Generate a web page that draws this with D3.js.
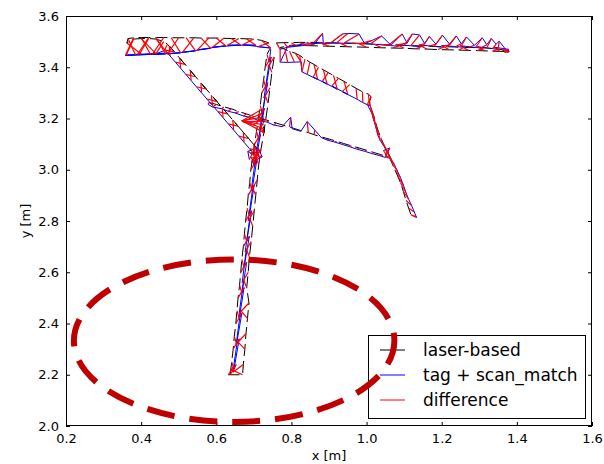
<!DOCTYPE html>
<html><head><meta charset="utf-8">
<script src="https://cdn.jsdelivr.net/npm/d3@7"></script>
<style>body{margin:0;background:#fff}svg{display:block}text{font-family:"DejaVu Sans",sans-serif;fill:#000}</style>
</head><body>
<svg id="c" width="604" height="464"></svg>
<script>
const xTicks = [0.2, 0.4, 0.6, 0.8, 1.0, 1.2, 1.4, 1.6];
const yTicks = [2.0, 2.2, 2.4, 2.6, 2.8, 3.0, 3.2, 3.4, 3.6];
const seriesNames = ["laser-based", "tag + scan_match", "difference"];

// laser-based poses [x, y] (null = break in the track)
const laser = [
  // vertical corridor, going up
  [0.637,2.20],[0.641,2.25],[0.645,2.30],[0.648,2.35],[0.652,2.40],[0.655,2.45],[0.658,2.50],[0.662,2.55],[0.665,2.60],[0.668,2.65],[0.672,2.70],[0.675,2.75],[0.678,2.80],[0.682,2.85],[0.685,2.90],[0.689,2.95],[0.692,3.00],[0.697,3.05],[0.702,3.10],[0.707,3.15],[0.712,3.20],[0.717,3.25],[0.721,3.30],[0.726,3.35],[0.730,3.40],[0.735,3.45],[0.742,3.47],
  null,
  // top-left corridor, going left
  [0.740,3.495],[0.720,3.505],[0.700,3.510],[0.680,3.511],[0.660,3.512],[0.640,3.512],[0.620,3.513],[0.600,3.514],[0.580,3.514],[0.560,3.514],[0.540,3.515],[0.520,3.515],[0.500,3.515],[0.480,3.515],[0.460,3.516],[0.440,3.516],[0.420,3.516],[0.400,3.516],[0.380,3.515],[0.365,3.512],
  // and back right
  [0.362,3.495],[0.380,3.510],[0.400,3.512],[0.420,3.512],[0.440,3.510],[0.460,3.500],[0.470,3.490],
  // left diagonal, going down
  [0.489,3.459],[0.475,3.483],[0.517,3.411],[0.503,3.435],[0.545,3.363],[0.531,3.387],[0.573,3.315],[0.559,3.339],[0.602,3.266],[0.587,3.291],[0.630,3.218],[0.616,3.242],[0.658,3.170],[0.644,3.194],[0.686,3.122],[0.672,3.146],[0.714,3.074],[0.700,3.098],
  null,
  // junction clutter
  [0.720,3.235],[0.722,3.220],[0.724,3.205],[0.725,3.190],[0.726,3.175],[0.727,3.160],[0.728,3.145],[0.722,3.200],
  null,
  [0.705,3.090],[0.716,3.040],[0.700,3.020],[0.690,3.065],[0.712,3.070],[0.698,3.045],
  null,
  // middle corridor, going right
  [0.580,3.262],[0.600,3.255],[0.620,3.245],[0.640,3.238],[0.660,3.227],[0.680,3.218],[0.700,3.208],[0.720,3.200],[0.740,3.191],[0.760,3.182],[0.780,3.173],[0.795,3.167],[0.805,3.162],[0.825,3.153],[0.845,3.145],[0.860,3.137],[0.880,3.128],[0.900,3.120],[0.920,3.111],[0.940,3.102],[0.960,3.093],[0.980,3.085],[1.000,3.076],[1.020,3.067],[1.040,3.058],[1.056,3.050],[1.050,3.060],[1.058,3.045],
  null,
  // top-right corridor, going right
  [0.760,3.495],[0.780,3.496],[0.800,3.496],[0.820,3.497],[0.840,3.497],[0.860,3.497],[0.875,3.497],[0.890,3.496],[0.905,3.496],[0.920,3.495],[0.940,3.495],[0.960,3.494],[0.985,3.493],[1.010,3.491],[1.035,3.489],[1.060,3.488],[1.080,3.487],[1.100,3.485],[1.118,3.484],[1.135,3.484],[1.150,3.483],[1.165,3.482],[1.180,3.481],[1.200,3.480],[1.215,3.480],[1.235,3.479],[1.250,3.478],[1.270,3.477],[1.290,3.477],[1.305,3.476],[1.320,3.475],[1.335,3.473],[1.350,3.471],[1.362,3.468],[1.368,3.458],[1.360,3.474],[1.366,3.462],
  // and back left
  [1.355,3.462],[1.335,3.463],[1.315,3.464],[1.295,3.465],[1.270,3.466],[1.245,3.467],[1.220,3.468],[1.190,3.469],[1.160,3.471],[1.130,3.472],[1.100,3.474],[1.070,3.475],[1.040,3.476],[1.000,3.478],[0.950,3.480],[0.900,3.482],[0.850,3.484],[0.800,3.486],
  // right diagonal, going down
  [0.770,3.477],[0.783,3.470],[0.795,3.462],[0.810,3.455],[0.822,3.446],[0.836,3.432],[0.849,3.420],[0.860,3.411],[0.872,3.400],[0.885,3.390],[0.898,3.379],[0.912,3.368],[0.925,3.357],[0.940,3.345],[0.955,3.332],[0.972,3.318],[0.989,3.304],[1.005,3.295],[1.012,3.285],[1.008,3.265],[1.012,3.240],[1.018,3.215],[1.024,3.185],[1.030,3.155],[1.038,3.125],[1.045,3.100],[1.052,3.075],[1.060,3.050],[1.068,3.025],[1.075,3.000],[1.083,2.975],[1.090,2.950],[1.098,2.915],[1.105,2.880],[1.112,2.850],[1.118,2.825],[1.125,2.818],
  null,
  // vertical corridor, going down
  [0.754,3.44],[0.748,3.38],[0.743,3.32],[0.738,3.26],[0.732,3.20],[0.726,3.14],[0.719,3.08],[0.713,3.02],[0.709,2.96],[0.705,2.90],[0.701,2.84],[0.697,2.78],[0.693,2.72],[0.688,2.66],[0.685,2.60],[0.681,2.54],[0.687,2.48],[0.683,2.42],[0.679,2.36],[0.676,2.30],[0.672,2.24],[0.670,2.20],[0.632,2.20]
];

// tag + scan_match poses, one per laser pose
const tag = [
  [0.653,2.24],[0.647,2.22],[0.661,2.34],[0.654,2.32],[0.668,2.44],[0.661,2.42],[0.674,2.54],[0.668,2.52],[0.681,2.64],[0.674,2.62],[0.688,2.74],[0.681,2.72],[0.694,2.84],[0.688,2.82],[0.701,2.94],[0.695,2.92],[0.708,3.04],[0.703,3.02],[0.718,3.14],[0.713,3.12],[0.728,3.24],[0.723,3.22],[0.737,3.34],[0.732,3.32],[0.746,3.44],[0.741,3.42],[0.745,3.47],
  null,
  [0.710,3.480],[0.745,3.475],[0.670,3.488],[0.705,3.486],[0.630,3.486],[0.665,3.487],[0.590,3.478],[0.625,3.484],[0.550,3.468],[0.585,3.474],[0.510,3.458],[0.545,3.464],[0.470,3.452],[0.505,3.456],[0.430,3.450],[0.465,3.452],[0.390,3.449],[0.425,3.450],[0.358,3.446],[0.385,3.448],
  [0.400,3.452],[0.360,3.447],[0.440,3.452],[0.395,3.450],[0.470,3.455],[0.440,3.453],[0.462,3.465],
  [0.463,3.468],[0.477,3.444],[0.491,3.420],[0.505,3.396],[0.519,3.372],[0.533,3.348],[0.547,3.324],[0.561,3.300],[0.575,3.276],[0.590,3.251],[0.604,3.227],[0.618,3.203],[0.632,3.179],[0.646,3.155],[0.660,3.131],[0.674,3.107],[0.688,3.083],[0.702,3.059],
  null,
  [0.668,3.190],[0.670,3.188],[0.669,3.192],[0.672,3.187],[0.668,3.191],[0.671,3.189],[0.674,3.186],[0.700,3.176],
  null,
  [0.688,3.040],[0.684,3.072],[0.712,3.085],[0.722,3.050],[0.693,3.030],[0.718,3.075],
  null,
  [0.578,3.255],[0.590,3.245],[0.615,3.238],[0.632,3.228],[0.650,3.222],[0.672,3.210],[0.695,3.203],[0.712,3.192],[0.735,3.186],[0.752,3.175],[0.775,3.168],[0.798,3.205],[0.802,3.160],[0.825,3.150],[0.842,3.188],[0.862,3.155],[0.880,3.125],[0.895,3.116],[0.915,3.108],[0.935,3.099],[0.955,3.090],[0.975,3.080],[0.995,3.072],[1.015,3.063],[1.035,3.055],[1.050,3.048],[1.062,3.085],[1.045,3.075],
  null,
  [0.770,3.470],[0.790,3.478],[0.815,3.482],[0.840,3.486],[0.860,3.488],[0.883,3.532],[0.885,3.490],[0.905,3.495],[0.936,3.530],[0.950,3.532],[0.980,3.530],[0.995,3.492],[1.015,3.505],[1.040,3.522],[1.065,3.486],[1.095,3.530],[1.108,3.494],[1.122,3.530],[1.141,3.526],[1.155,3.492],[1.167,3.520],[1.185,3.490],[1.202,3.525],[1.222,3.488],[1.239,3.522],[1.252,3.492],[1.266,3.518],[1.287,3.486],[1.308,3.515],[1.320,3.488],[1.332,3.512],[1.345,3.490],[1.353,3.502],[1.372,3.466],[1.380,3.462],[1.376,3.458],[1.378,3.470],
  [1.340,3.478],[1.350,3.470],[1.295,3.480],[1.310,3.474],[1.250,3.484],[1.260,3.478],[1.200,3.485],[1.205,3.478],[1.140,3.487],[1.145,3.480],[1.080,3.489],[1.085,3.482],[1.020,3.490],[0.980,3.492],[0.930,3.494],[0.880,3.494],[0.830,3.490],[0.790,3.480],
  [0.770,3.420],[0.790,3.419],[0.808,3.420],[0.826,3.421],[0.827,3.400],[0.828,3.382],[0.842,3.372],[0.870,3.352],[0.858,3.362],[0.895,3.334],[0.882,3.345],[0.922,3.314],[0.908,3.327],[0.950,3.294],[0.935,3.305],[0.975,3.275],[0.990,3.262],[1.008,3.250],[1.002,3.255],[1.014,3.220],[1.020,3.190],[1.026,3.160],[1.030,3.135],[1.036,3.115],[1.045,3.095],[1.058,3.065],[1.066,3.040],[1.074,3.020],[1.082,2.995],[1.090,2.970],[1.098,2.940],[1.105,2.910],[1.112,2.885],[1.120,2.860],[1.127,2.835],[1.133,2.814],[1.130,2.820],
  null,
  [0.738,3.40],[0.740,3.41],[0.727,3.28],[0.730,3.29],[0.716,3.16],[0.718,3.17],[0.703,3.04],[0.705,3.05],[0.693,2.92],[0.697,2.93],[0.685,2.80],[0.689,2.81],[0.677,2.68],[0.680,2.69],[0.669,2.56],[0.673,2.57],[0.661,2.44],[0.665,2.45],[0.653,2.32],[0.656,2.33],[0.644,2.21],[0.640,2.22],[0.645,2.23]
];

const ellipseCenter = [0.6475, 2.333];
const ellipseRadii = [0.4265, 0.317];

const L = 66, R = 592, T = 16, B = 426;
const svg = d3.select("#c");
const x = d3.scaleLinear().domain([0.2, 1.6]).range([L, R]);
const y = d3.scaleLinear().domain([2.0, 3.6]).range([B, T]);

svg.append("defs").append("clipPath").attr("id", "clip")
  .append("rect").attr("x", L).attr("y", T).attr("width", R - L).attr("height", B - T);

const plot = svg.append("g").attr("clip-path", "url(#clip)");
const line = d3.line().defined(d => d !== null).x(d => x(d[0])).y(d => y(d[1]));

plot.append("path").attr("d", line(laser)).attr("fill", "none")
  .attr("stroke", "#000").attr("stroke-width", 1).attr("stroke-dasharray", "12,5");
plot.append("path").attr("d", line(tag)).attr("fill", "none")
  .attr("stroke", "#0000ff").attr("stroke-width", 1);

const diffs = laser.map((p, i) => (p && tag[i]) ? [p, tag[i]] : null).filter(d => d);
plot.append("g").selectAll("line").data(diffs).join("line")
  .attr("x1", d => x(d[0][0])).attr("y1", d => y(d[0][1]))
  .attr("x2", d => x(d[1][0])).attr("y2", d => y(d[1][1]))
  .attr("stroke", "#ff0000").attr("stroke-width", 1.2);

// axes (classic style: ticks inside on all four sides)
const fmt = d3.format(".1f");
const ax = svg.append("g").attr("transform", `translate(0,${B})`)
  .call(d3.axisBottom(x).tickValues(xTicks).tickSizeInner(-4).tickSizeOuter(0).tickPadding(8).tickFormat(fmt));
const axT = svg.append("g").attr("transform", `translate(0,${T})`)
  .call(d3.axisTop(x).tickValues(xTicks).tickSizeInner(-4).tickSizeOuter(0).tickFormat(""));
const ay = svg.append("g").attr("transform", `translate(${L},0)`)
  .call(d3.axisLeft(y).tickValues(yTicks).tickSizeInner(-4).tickSizeOuter(0).tickPadding(7).tickFormat(fmt));
const ayR = svg.append("g").attr("transform", `translate(${R},0)`)
  .call(d3.axisRight(y).tickValues(yTicks).tickSizeInner(-4).tickSizeOuter(0).tickFormat(""));
[ax, axT, ay, ayR].forEach(g => {
  g.select(".domain").remove();
  g.selectAll("line").attr("stroke", "#000");
  g.selectAll("text").attr("font-size", 13).attr("font-family", "DejaVu Sans").attr("fill", "#000");
});

svg.append("rect").attr("x", L + 0.5).attr("y", T + 0.5).attr("width", R - L - 1).attr("height", B - T - 1)
  .attr("fill", "none").attr("stroke", "#000").attr("stroke-width", 1);

svg.append("text").attr("x", (L + R) / 2).attr("y", 460).attr("text-anchor", "middle")
  .attr("font-size", 13).text("x [m]");
svg.append("text").attr("transform", `translate(30,${(T + B) / 2}) rotate(-90)`).attr("text-anchor", "middle")
  .attr("font-size", 13).text("y [m]");

// legend
const lg = svg.append("g");
lg.append("rect").attr("x", 368.5).attr("y", 335.5).attr("width", 217).attr("height", 83)
  .attr("fill", "#fff").attr("stroke", "#000").attr("stroke-width", 1);
const colors = ["#000", "#0000ff", "#ff0000"];
seriesNames.forEach((name, i) => {
  const cy = 350 + i * 25;
  lg.append("line").attr("x1", 380).attr("x2", 405).attr("y1", cy).attr("y2", cy)
    .attr("stroke", colors[i]).attr("stroke-width", 1);
  if (i === 0) {
    lg.append("line").attr("x1", 392.5).attr("x2", 392.5).attr("y1", cy - 6).attr("y2", cy + 6)
      .attr("stroke", "#000").attr("stroke-width", 1);
  }
  lg.append("text").attr("x", 423).attr("y", cy + 6).attr("font-size", 17).text(name);
});

// dashed ellipse highlight
const ex = x(ellipseCenter[0]), ey = y(ellipseCenter[1]);
const erx = x(ellipseCenter[0] + ellipseRadii[0]) - ex, ery = ey - y(ellipseCenter[1] + ellipseRadii[1]);
svg.append("path")
  .attr("d", `M${ex + erx},${ey} A${erx},${ery} 0 0 0 ${ex - erx},${ey} A${erx},${ery} 0 0 0 ${ex + erx},${ey}`)
  .attr("fill", "none").attr("stroke", "#bf0000").attr("stroke-width", 6)
  .attr("stroke-dasharray", "28,15").attr("stroke-dashoffset", 20);
</script>
</body></html>
